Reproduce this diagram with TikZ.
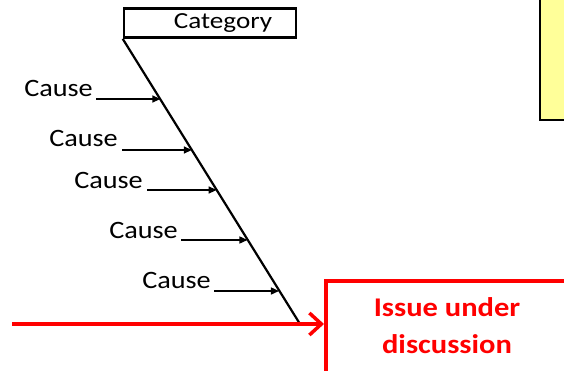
\documentclass[tikz,border=0pt]{standalone}
\usepackage{fontspec}
\setmainfont{Carlito}
\newfontfamily\widefont[FakeStretch=1.13]{Carlito}
\newfontfamily\widerfont[FakeStretch=1.18]{Carlito}
\usetikzlibrary{calc,arrows.meta}
\definecolor{issuered}{RGB}{255,0,0}
\definecolor{noteyellow}{RGB}{255,255,153}
\tikzset{
  catbox/.style={draw=black, line width=2.6pt, minimum width=172pt, minimum height=29pt,
    inner sep=0pt, font=\widerfont\fontsize{23}{23}\selectfont},
  causelabel/.style={anchor=east, inner sep=0pt, font=\widefont\fontsize{25}{25}\selectfont},
  spine/.style={line width=2.2pt, black},
  causearrow/.style={line width=1.4pt, -{Triangle[length=8pt,width=7pt]}},
  issuebox/.style={draw=issuered, line width=4pt, minimum width=300pt, minimum height=110pt,
    anchor=north west, inner sep=0pt},
  issuetext/.style={text=issuered, align=center, font=\widefont\bfseries\fontsize{27}{37}\selectfont},
  redline/.style={draw=issuered, line width=3.5pt,
    -{Straight Barb[length=12pt,width=22pt,line width=3.5pt]}},
  notebox/.style={draw=black, fill=noteyellow, line width=2pt, minimum width=80pt,
    minimum height=140pt, anchor=south west, inner sep=0pt},
}
\begin{document}
\begin{tikzpicture}[x=1pt,y=-1pt]
  \useasboundingbox (0,0) rectangle (564,370);
  \clip (0,0) rectangle (564,370);
  \fill[white] (0,0) rectangle (564,370);

  % note box in the upper right corner
  \node[notebox] (note) at (539,121) {};

  % category head and its spine (title sits right of centre)
  \node[catbox] (cat) at (210,23) {\hspace*{26pt}Category};
  \coordinate (spineend) at (300,324);
  \draw[spine] (cat.south west) -- (spineend);

  % causes feeding the spine
  \foreach \i/\lx/\ly/\ax/\ay/\t in {1/93/88/96/99/0.2125, 2/118/138/122/150/0.390,
      3/143/180/147/190/0.5296, 4/178/230/181/240/0.7038, 5/211/280/214/291/0.8815}{
    \node[causelabel] (cause\i) at (\lx,\ly) {Cause};
    \coordinate (tail\i) at (\ax,\ay);
    \coordinate (hit\i) at ($(cat.south west)!\t!(spineend)$);
    \draw[causearrow] (tail\i) -- (tail\i -| hit\i);
  }

  % main bone leading into the issue
  \node[issuebox] (issue) at (324,279) {};
  \node[issuetext] (issuetxt) at (447,326) {Issue under\\discussion};
  \coordinate (bonestart) at (12,324);
  \draw[redline] (bonestart) -- (issue.west |- bonestart);
\end{tikzpicture}
\end{document}
